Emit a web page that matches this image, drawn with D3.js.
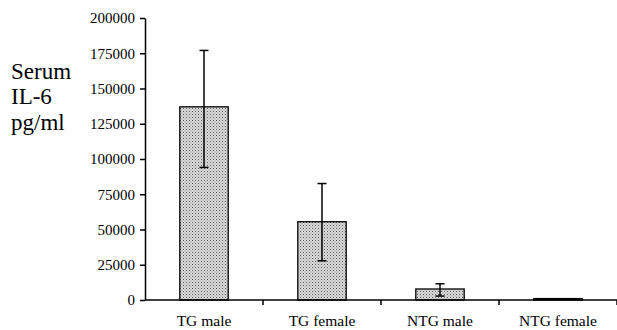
<!DOCTYPE html>
<html>
<head>
<meta charset="utf-8">
<script src="https://cdn.jsdelivr.net/npm/d3@7"></script>
<style>
  body { margin: 0; background: #fff; }
  svg { display: block; font-family: "Liberation Serif", "Times New Roman", serif; }
  .axis path, .axis line { stroke: #000; stroke-width: 1.5; }
  .axis text { font-size: 15px; fill: #000; font-family: "Liberation Serif", serif; }
  .axis text.cat { font-size: 15.5px; }
</style>
</head>
<body>
<div id="chart"></div>
<script>
// data
const groups = ['TG male', 'TG female', 'NTG male', 'NTG female'];
const means = [137000, 55500, 7800, 1000];
const errLow = [94000, 27800, 2800, null];
const errHigh = [177000, 82600, 11500, null];
const yTicks = [0, 25000, 50000, 75000, 100000, 125000, 150000, 175000, 200000];
const yLabelLines = ['Serum', 'IL-6', 'pg/ml'];

const width = 617, height = 330;
const margin = { top: 18, right: 0, bottom: 30, left: 145 };

const svg = d3.select('#chart').append('svg')
    .attr('width', width)
    .attr('height', height);

// stipple fill for bars
const defs = svg.append('defs');
const pat = defs.append('pattern')
    .attr('id', 'dots')
    .attr('width', 3).attr('height', 3)
    .attr('patternUnits', 'userSpaceOnUse');
pat.append('rect').attr('width', 3).attr('height', 3).attr('fill', '#dcdcdc');
pat.append('rect').attr('x', 0).attr('y', 0).attr('width', 1).attr('height', 1).attr('fill', '#555');
pat.append('rect').attr('x', 1.5).attr('y', 1.5).attr('width', 1).attr('height', 1).attr('fill', '#888');

const x = d3.scaleBand()
    .domain(groups)
    .range([margin.left, width - margin.right])
    .paddingInner(0.59)
    .paddingOuter(0.295);

const y = d3.scaleLinear()
    .domain([0, 200000])
    .range([height - margin.bottom, margin.top]);

// bars
svg.selectAll('rect.bar')
    .data(groups)
    .enter().append('rect')
    .attr('class', 'bar')
    .attr('x', d => x(d))
    .attr('width', x.bandwidth())
    .attr('y', (d, i) => y(means[i]))
    .attr('height', (d, i) => y(0) - y(means[i]))
    .attr('fill', 'url(#dots)')
    .attr('stroke', '#000')
    .attr('stroke-width', 1.3);

// error bars
const err = groups.map((g, i) => ({ g, lo: errLow[i], hi: errHigh[i] })).filter(d => d.lo != null);
const eg = svg.append('g').attr('stroke', '#000').attr('stroke-width', 1.5);
err.forEach(d => {
    const cx = x(d.g) + x.bandwidth() / 2;
    eg.append('line').attr('x1', cx).attr('x2', cx).attr('y1', y(d.hi)).attr('y2', y(d.lo));
    eg.append('line').attr('x1', cx - 4.5).attr('x2', cx + 4.5).attr('y1', y(d.hi)).attr('y2', y(d.hi));
    eg.append('line').attr('x1', cx - 4.5).attr('x2', cx + 4.5).attr('y1', y(d.lo)).attr('y2', y(d.lo));
});

// y axis
svg.append('g')
    .attr('class', 'axis')
    .attr('transform', `translate(${margin.left},0)`)
    .call(d3.axisLeft(y).tickValues(yTicks).tickFormat(d3.format('d')).tickSize(5).tickSizeOuter(0).tickPadding(5));

// x axis: ticks sit between the categories
const xAxis = svg.append('g').attr('class', 'axis');
xAxis.append('line')
    .attr('x1', margin.left).attr('x2', width - margin.right)
    .attr('y1', y(0)).attr('y2', y(0));
const step = x.step();
groups.forEach(g => {
    const bx = x(g) + x.bandwidth() + step * x.paddingInner() / 2;
    xAxis.append('line').attr('x1', bx).attr('x2', bx).attr('y1', y(0)).attr('y2', y(0) + 5);
});
xAxis.selectAll('text.cat')
    .data(groups)
    .enter().append('text')
    .attr('class', 'cat')
    .attr('x', d => x(d) + x.bandwidth() / 2)
    .attr('y', y(0) + 26)
    .attr('text-anchor', 'middle')
    .text(d => d);

// y label
svg.append('g')
    .selectAll('text')
    .data(yLabelLines)
    .enter().append('text')
    .attr('x', 11)
    .attr('y', (d, i) => 78.5 + i * 25.5)
    .attr('font-size', 23)
    .attr('fill', '#000')
    .text(d => d);
</script>
</body>
</html>
